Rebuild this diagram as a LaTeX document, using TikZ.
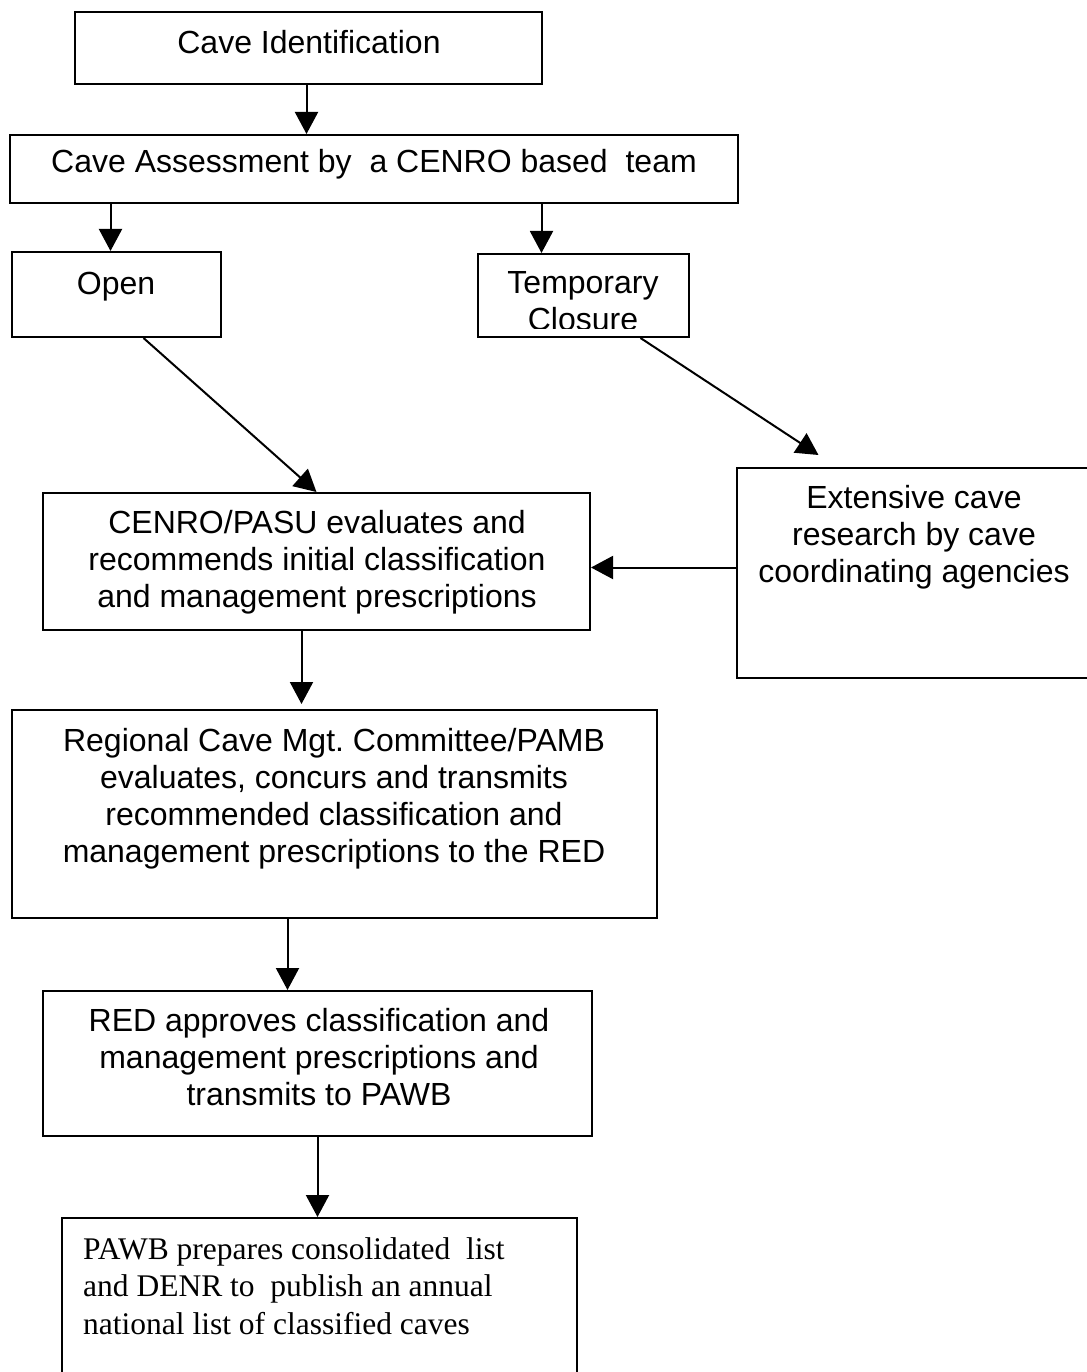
\documentclass[tikz,border=0pt]{standalone}
\usepackage{fontspec}
\setmainfont{Liberation Sans}
\newfontfamily\timesfont{Liberation Serif}
\usetikzlibrary{arrows.meta}
\frenchspacing
\begin{document}
\begin{tikzpicture}[x=1pt, y=-1pt,
	box/.style={draw, line width=2pt, inner sep=0pt},
	txt/.style={font=\fontsize{32}{37}\selectfont, align=center, inner sep=0pt, anchor=north},
	arr/.style={line width=2pt, -{Triangle[length=22pt, width=23pt]}}]
			\useasboundingbox (0,0) rectangle (1086,1372);
			\node[box, minimum width=467, minimum height=72] (ident) at (308.5,48) {};
			\node[box, minimum width=728, minimum height=68] (assess) at (374,169) {};
			\node[box, minimum width=209, minimum height=85] (open) at (116.5,294.5) {};
			\node[box, minimum width=211, minimum height=83] (temp) at (583.5,295.5) {};
			\node[box, minimum width=547, minimum height=137] (cenro) at (316.5,561.5) {};
			\node[box, minimum width=355, minimum height=210] (ext) at (914.5,573) {};
			\node[box, minimum width=645, minimum height=208] (regional) at (334.5,814) {};
			\node[box, minimum width=549, minimum height=145] (red) at (317.5,1063.5) {};
			\node[box, minimum width=515, minimum height=182] (pawb) at (319.5,1309) {};
			\node[txt] (identtext) at (309,30.5) {Cave Identification};
			\node[txt] (assesstext) at (374,149.5) {Cave Assessment by\ \ a CENRO based\ \ team};
			\node[txt] (opentext) at (116,271.5) {Open};
			\begin{scope}
				\clip (temp.north west) rectangle ([yshift=10pt]temp.south east);
				\node[txt] (temptext) at (583,271.5) {Temporary\\Closure};
			\end{scope}
			\node[txt] (cenrotext) at (317,510.5) {CENRO/PASU evaluates and\\recommends initial classification\\and management prescriptions};
			\node[txt] (exttext) at (914,485.5) {Extensive cave\\research by cave\\coordinating agencies};
			\node[txt] (regionaltext) at (334,728.5) {Regional Cave Mgt. Committee/PAMB\\evaluates, concurs and transmits\\recommended classification and\\management prescriptions to the RED};
			\node[txt] (redtext) at (319,1008.5) {RED approves classification and\\management prescriptions and\\transmits to PAWB};
			\node[txt, anchor=north west, align=left, font=\timesfont\fontsize{31.5}{37.5}\selectfont] (pawbtext) at (83,1237) {PAWB prepares consolidated\ \ list\\and DENR to\ \ publish an annual\\national list of classified caves};
			\draw[arr] ([xshift=-2pt]ident.south) -- ([xshift=-2pt]ident.south |- assess.north);
			\draw[arr] ([xshift=-6pt]open.north |- assess.south) -- ([xshift=-6pt]open.north);
			\draw[arr] ([xshift=-42pt]temp.north |- assess.south) -- ([xshift=-42pt]temp.north);
			\draw[arr] ([xshift=27pt]open.south) -- (cenro.north);
			\draw[arr] ([xshift=57pt]temp.south) -- ([xshift=-96pt, yshift=12pt]ext.north);
			\draw[arr] ([yshift=-6pt]cenro.east -| ext.west) -- ([yshift=-6pt]cenro.east);
			\draw[arr] ([xshift=-15pt]cenro.south) -- ([xshift=-15pt, yshift=5pt]cenro.south |- regional.north);
			\draw[arr] ([xshift=-30pt]red.north |- regional.south) -- ([xshift=-30pt]red.north);
			\draw[arr] (red.south) -- (red.south |- pawb.north);
		\end{tikzpicture}
\end{document}
